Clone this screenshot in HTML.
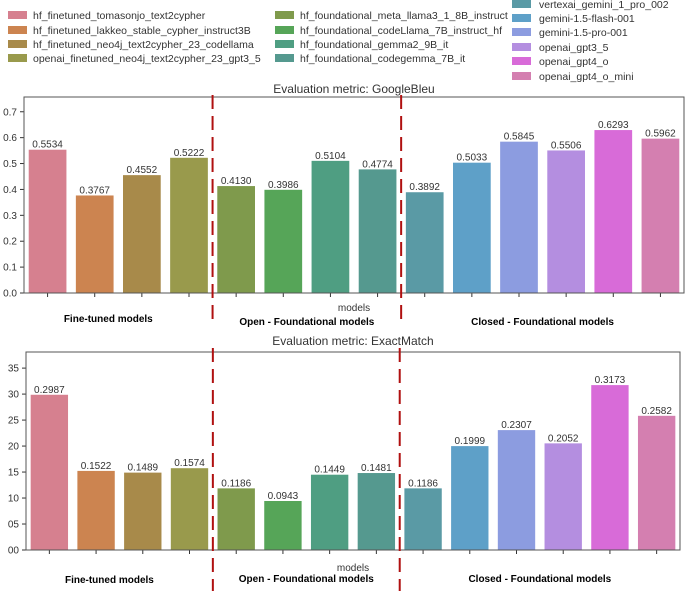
<!DOCTYPE html>
<html><head><meta charset="utf-8"><style>
body{margin:0;background:#fff;width:700px;height:591px;overflow:hidden;font-family:"Liberation Sans","DejaVu Sans",sans-serif}
svg{display:block}
</style></head><body>
<svg id="fig" width="700" height="591" xmlns="http://www.w3.org/2000/svg">
<g id="legend"></g>
<g id="c1"></g>
<g id="c2"></g>
</svg>
<script>
const models = ["hf_finetuned_tomasonjo_text2cypher","hf_finetuned_lakkeo_stable_cypher_instruct3B","hf_finetuned_neo4j_text2cypher_23_codellama","openai_finetuned_neo4j_text2cypher_23_gpt3_5","hf_foundational_meta_llama3_1_8B_instruct","hf_foundational_codeLlama_7B_instruct_hf","hf_foundational_gemma2_9B_it","hf_foundational_codegemma_7B_it","vertexai_gemini_1_pro_002","gemini-1.5-flash-001","gemini-1.5-pro-001","openai_gpt3_5","openai_gpt4_o","openai_gpt4_o_mini"];
const colors = ["#d6808f","#cc8450","#a88a4a","#999a4c","#7f9a4c","#56a558","#4f9e82","#55998f","#5a9aa5","#5ea0c8","#8c9ce0","#b48ee0","#d86bd8","#d47fb0"];
const bleuValues = [0.5534,0.3767,0.4552,0.5222,0.4130,0.3986,0.5104,0.4774,0.3892,0.5033,0.5845,0.5506,0.6293,0.5962];
const bleuTicks = ["0.0","0.1","0.2","0.3","0.4","0.5","0.6","0.7"];
const emValues = [0.2987,0.1522,0.1489,0.1574,0.1186,0.0943,0.1449,0.1481,0.1186,0.1999,0.2307,0.2052,0.3173,0.2582];
const emTicks = ["00","05","10","15","20","25","30","35"];
const groups = ["Fine-tuned models","Open - Foundational models","Closed - Foundational models"];

const NS="http://www.w3.org/2000/svg";
function mk(parent,tag,attrs,text){const e=document.createElementNS(NS,tag);for(const k in attrs)e.setAttribute(k,attrs[k]);if(text!==undefined)e.textContent=text;parent.appendChild(e);return e;}

// legend
const lg=document.getElementById('legend');
const legPos=[];
const rowA=[15,30,44,58];
for(let i=0;i<4;i++)legPos.push([8,rowA[i],10.5,25]);
for(let i=0;i<4;i++)legPos.push([275,rowA[i],10.5,25]);
const rowB=[4,18,32,47,61,76];
for(let i=0;i<6;i++)legPos.push([512,rowB[i],10.5,27]);
models.forEach((m,i)=>{
  const [x,y,fs,off]=legPos[i];
  const r=mk(lg,'rect',{x:x,y:y-4,width:19,height:8,fill:colors[i]});
  
  
  const t=mk(lg,'text',{x:x+off,y:y+4,'font-size':fs,fill:'#333'},m);
  
  
});

function chart(g,o){
  const {L,R,T,B,vmax,vals,ticks,tickStep,scaleVal,title,titleY,fmt,groupYs,modelsY,dashTop,dashBot}=o;
  const y=v=>B-(v/vmax)*(B-T);
  const bw=(R-L)/vals.length;
  const x=i=>L+bw*i;
  const tt=mk(g,'text',{x:(L+R)/2,y:titleY,'text-anchor':'middle','font-size':12,fill:'#333'},title);
  
  
  ticks.forEach((lab,i)=>{
    const yy=y(i*tickStep);
    mk(g,'line',{x1:L-4,x2:L,y1:yy,y2:yy,stroke:'#333'});
    const t=mk(g,'text',{x:L-7,y:yy+3.5,'text-anchor':'end','font-size':10,fill:'#333'},lab);
    
    
  });
  vals.forEach((v,i)=>{
    const h=v*scaleVal;
    const b=mk(g,'rect',{x:x(i)+bw*0.1,y:y(h),width:bw*0.8,height:B-y(h),fill:colors[i]});
    
    
    const t=mk(g,'text',{x:x(i)+bw/2,y:y(h)-2,'text-anchor':'middle','font-size':10,fill:'#333'},fmt(v));
    
    
    mk(g,'line',{x1:x(i)+bw/2,x2:x(i)+bw/2,y1:B,y2:B+4,stroke:'#333'});
  });
  mk(g,'rect',{x:L,y:T,width:R-L,height:B-T,fill:'none',stroke:'#555','stroke-width':1});
  [4,8].forEach(k=>{
    const d=mk(g,'line',{x1:x(k),x2:x(k),y1:dashTop,y2:dashBot,stroke:'#b01010','stroke-width':2,'stroke-dasharray':'14,7'});
    
    
  });
  const mx=mk(g,'text',{x:(L+R)/2,y:modelsY,'text-anchor':'middle','font-size':10,fill:'#333'},'models');
  
  
  const gx=[x(2)-10,x(6),x(11)];
  groups.forEach((gname,i)=>{
    const t=mk(g,'text',{x:gx[i],y:groupYs[i],'text-anchor':'middle','font-size':10,'font-weight':'bold',fill:'#000'},gname);
    
    
  });
}
chart(document.getElementById('c1'),{L:24,R:684,T:97,B:293,vmax:0.757,vals:bleuValues,ticks:bleuTicks,tickStep:0.1,scaleVal:1,
  title:'Evaluation metric: GoogleBleu',titleY:93,fmt:v=>v.toFixed(4),groupYs:[322,325,325],modelsY:311,dashTop:95,dashBot:322});
chart(document.getElementById('c2'),{L:26,R:680,T:352,B:550,vmax:38.1,vals:emValues,ticks:emTicks,tickStep:5,scaleVal:100,
  title:'Evaluation metric: ExactMatch',titleY:345,fmt:v=>v.toFixed(4),groupYs:[583,582,582],modelsY:571,dashTop:348,dashBot:591});
</script>
</body></html>
